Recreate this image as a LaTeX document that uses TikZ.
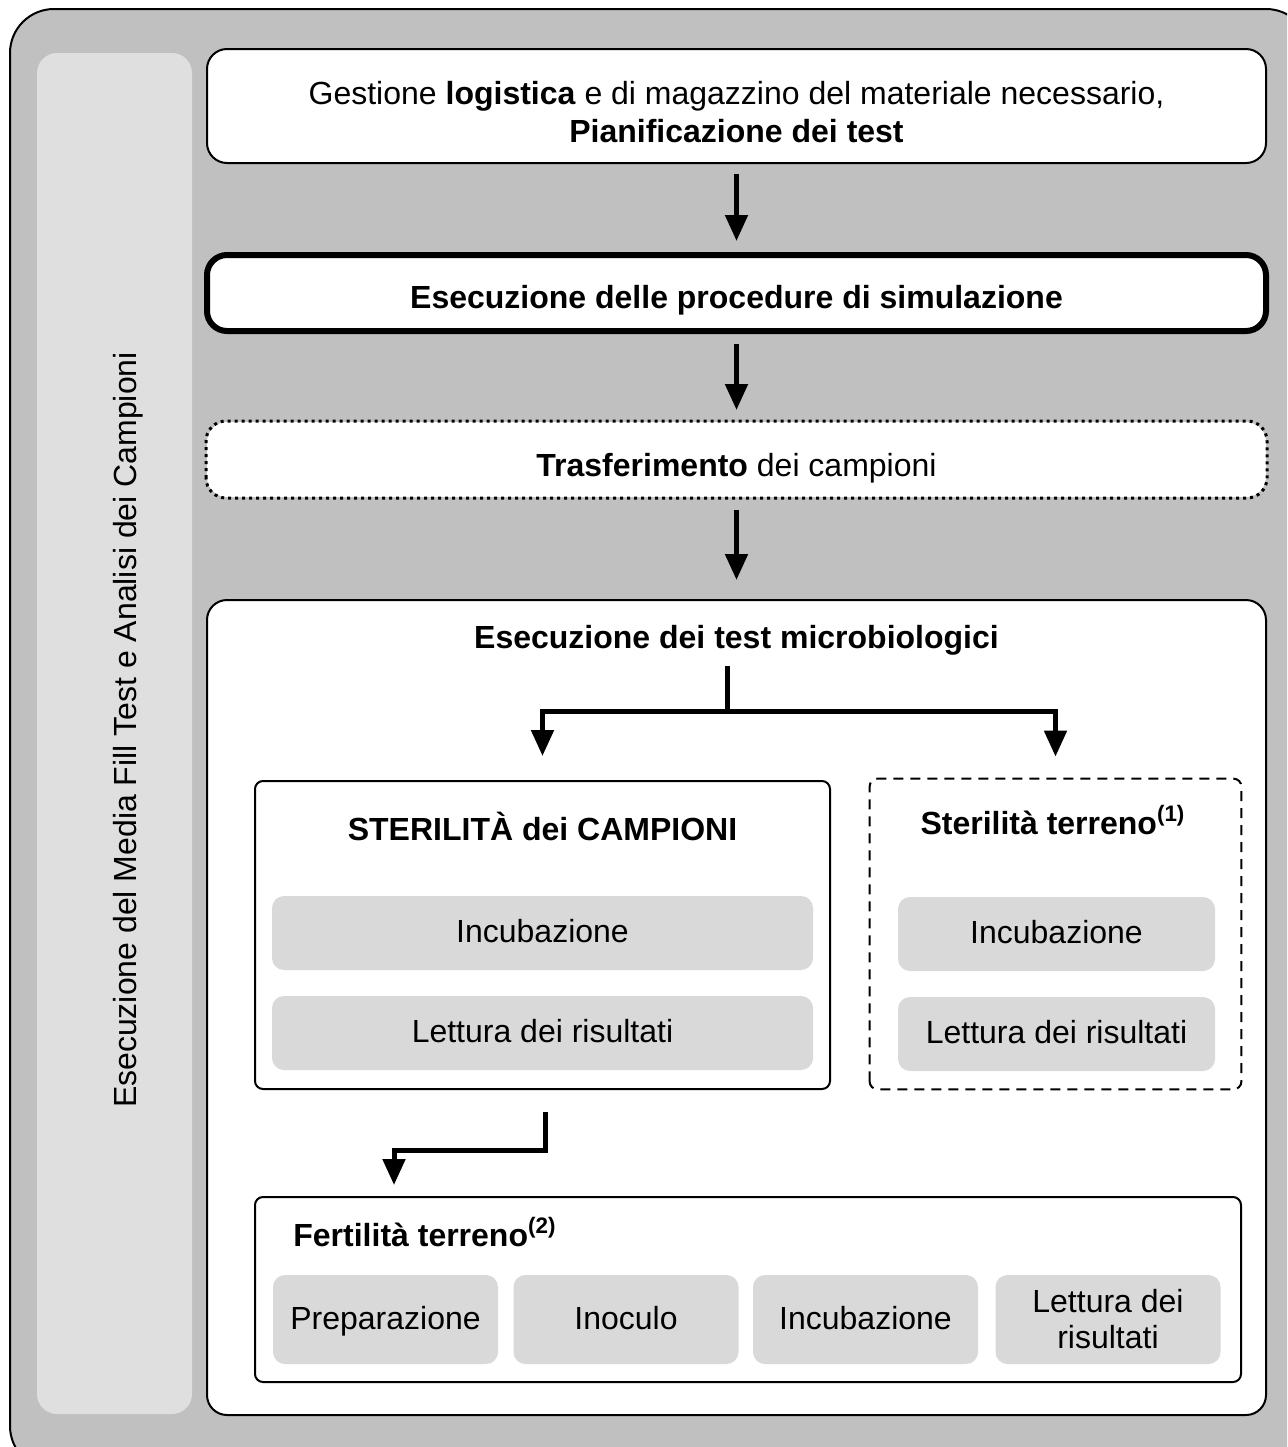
\documentclass[tikz,border=0pt]{standalone}
\usepackage{fontspec}
\setmainfont{Liberation Sans}
\usetikzlibrary{arrows.meta}
\definecolor{outergrey}{HTML}{C0C0C0}
\definecolor{sidegrey}{HTML}{DFDFDF}
\definecolor{cellgrey}{HTML}{D9D9D9}
\begin{document}
\begin{tikzpicture}[x=0.5pt,y=-0.5pt,
  font=\fontsize{16}{19}\selectfont,
  bigbox/.style={draw, line width=1pt, fill=white, rounded corners=10pt,
    minimum width=529.5pt, inner sep=0pt, align=center},
  subbox/.style={draw, line width=1pt, fill=white, rounded corners=4pt, inner sep=0pt},
  cell/.style={fill=cellgrey, rounded corners=6pt, inner sep=0pt, align=center},
  onecell/.style={cell, text height=1.15em, text depth=0.2em},
  arr/.style={line width=2.5pt, -{Triangle[width=11pt,length=13pt]}},
  plain/.style={inner sep=0pt, align=center},
]
\useasboundingbox (0,0) rectangle (1287,1447);
\clip (0,0) rectangle (1287,1447);
% outer frame
\draw[line width=1pt, fill=outergrey, rounded corners=22pt] (10,9) rectangle (1310,1470);
% side bar
\fill[sidegrey, rounded corners=10pt] (37,53) rectangle (192,1414);
\node[plain, rotate=90] (side) at (128,730) {Esecuzione del Media Fill Test e Analisi dei Campioni};

% top boxes
\node[bigbox, minimum height=57pt] (b1) at (736.5,106) {};
\node[plain] (b1t) at (736.5,112) {Gestione \textbf{logistica} e di magazzino del materiale necessario,\\ \textbf{Pianificazione dei test}};
\node[bigbox, line width=3pt, minimum height=38pt] (b2) at (736.5,293) {};
\node[plain, anchor=base] (b2t) at (736.5,308) {\textbf{Esecuzione delle procedure di simulazione}};
\node[bigbox, draw=none, minimum height=37.5pt] (b3) at (736.5,459.5) {};
\draw[line width=1.5pt, dash pattern=on 1.5pt off 2pt, rounded corners=10pt] (b3.south west) rectangle (b3.north east);
\node[plain, anchor=base] (b3t) at (736.5,476) {\textbf{Trasferimento} dei campioni};

\node[bigbox, minimum height=407.5pt] (b4) at (736.5,1007.5) {};
\node[plain, anchor=base] (t4) at (736.5,648) {\textbf{Esecuzione dei test microbiologici}};

\draw[arr, shorten <=5pt, shorten >=5.5pt] (b1) -- (b2);
\draw[arr, shorten <=5pt, shorten >=5.5pt] (b2) -- (b3);
\draw[arr, shorten <=6pt, shorten >=9.5pt] (b3) -- (b4);

% sterilita campioni
\node[subbox, minimum width=287.5pt, minimum height=154pt] (ster) at (542.5,935) {};
\node[plain, anchor=base] (stert) at (542.5,840) {\textbf{STERILITÀ dei CAMPIONI}};
\node[onecell, minimum width=270.5pt, minimum height=37pt] (sinc) at (542.5,933) {Incubazione};
\node[onecell, minimum width=270.5pt, minimum height=37pt] (slet) at (542.5,1033) {Lettura dei risultati};

% sterilita terreno
\node[inner sep=0pt, minimum width=185.5pt, minimum height=155pt] (ter) at (1055.5,934) {};
\draw[line width=1pt, dash pattern=on 5pt off 3.5pt, rounded corners=4pt] (ter.south west) rectangle (ter.north east);
\node[plain, anchor=base] (tert) at (1053,834) {\textbf{Sterilità terreno\textsuperscript{(1)}}};
\node[onecell, minimum width=158.5pt, minimum height=37pt] (tinc) at (1056.5,934) {Incubazione};
\node[onecell, minimum width=158.5pt, minimum height=37pt] (tlet) at (1056.5,1034) {Lettura dei risultati};

% branch
\coordinate (stem) at (727,666);
\coordinate (br) at (727,711);
\draw[arr, shorten >=12pt] (stem) -- (br) -| (ster.north);
\draw[arr, shorten >=11pt] (stem) -- (br) -| (ter.north);

% fertilita
\node[subbox, minimum width=493pt, minimum height=92.5pt] (fert) at (748,1289.5) {};
\node[plain, anchor=base west] (fertt) at (293,1246) {\textbf{Fertilità terreno\textsuperscript{(2)}}};
\node[onecell, minimum width=112.5pt, minimum height=44.5pt] (f1) at (385.5,1319.5) {Preparazione};
\node[onecell, minimum width=112.5pt, minimum height=44.5pt] (f2) at (626,1319.5) {Inoculo};
\node[onecell, minimum width=112.5pt, minimum height=44.5pt] (f3) at (865.5,1319.5) {Incubazione};
\node[cell, minimum width=112.5pt, minimum height=44.5pt, font=\fontsize{16}{18}\selectfont] (f4) at (1108,1319.5) {Lettura dei\\risultati};

\coordinate (e1) at (545,1112);
\coordinate (e2) at (545,1150);
\draw[arr, shorten >=5.5pt] (e1) -- (e2) -| ([xshift=70pt]fert.north west);
\end{tikzpicture}
\end{document}
